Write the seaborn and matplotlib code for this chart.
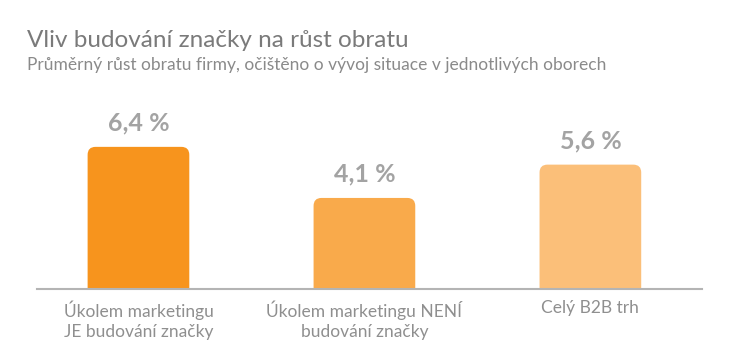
import pandas as pd
import seaborn as sns
import matplotlib.pyplot as plt
from matplotlib.patches import FancyBboxPatch

# Data
kategorie = ["Úkolem marketingu\nJE budování značky",
             "Úkolem marketingu NENÍ\nbudování značky",
             "Celý B2B trh"]
rust = [6.4, 4.1, 5.6]
popisky = ["6,4 %", "4,1 %", "5,6 %"]
barvy = ["#F7941D", "#F9AA4B", "#FBBF79"]

df = pd.DataFrame({"kategorie": kategorie, "rust": rust})

sns.set_style("white")
plt.rcParams["font.family"] = ["Lato", "DejaVu Sans"]

fig = plt.figure(figsize=(7.3, 3.59), dpi=100)
ax = fig.add_axes([37 / 730, 1 - 289 / 359, (702 - 37) / 730, (289 - 100) / 359])

sns.barplot(data=df, x="kategorie", y="rust", hue="kategorie", palette=barvy,
            legend=False, width=0.45, saturation=1, ax=ax)

# zaoblené horní rohy
for p in list(ax.patches):
    x, w, h = p.get_x(), p.get_width(), p.get_height()
    fc = p.get_facecolor()
    p.set_visible(False)
    box = FancyBboxPatch((x, -1), w, h + 1,
                         boxstyle="round,pad=0,rounding_size=0.035",
                         mutation_aspect=10.2, facecolor=fc, edgecolor="none")
    ax.add_patch(box)

for i, (v, t) in enumerate(zip(rust, popisky)):
    ax.annotate(t, (i, v), xytext=(0, 9), textcoords="offset points",
                ha="center", va="bottom", fontsize=18, fontweight="bold",
                color="#A3A3A3")

ax.set_xlim(-0.449, 2.494)
ax.set_ylim(0, 8.51)
ax.set_xlabel("")
ax.set_ylabel("")
ax.set_yticks([])
ax.tick_params(axis="x", length=0, pad=8, labelsize=12.5, labelcolor="#8F8F8F")
for lbl in ax.get_xticklabels():
    lbl.set_linespacing(1.3)
for s in ["top", "right", "left"]:
    ax.spines[s].set_visible(False)
ax.spines["bottom"].set_color("#B4B4B4")
ax.spines["bottom"].set_linewidth(1.5)

fig.text(27 / 730, 1 - 47 / 359, "Vliv budování značky na růst obratu",
         fontsize=17.5, color="#7A7A7A", ha="left", va="baseline")
fig.text(27 / 730, 1 - 70 / 359,
         "Průměrný růst obratu firmy, očištěno o vývoj situace v jednotlivých oborech",
         fontsize=12.5, color="#8A8A8A", ha="left", va="baseline")

fig.savefig("out.png", dpi=100)
